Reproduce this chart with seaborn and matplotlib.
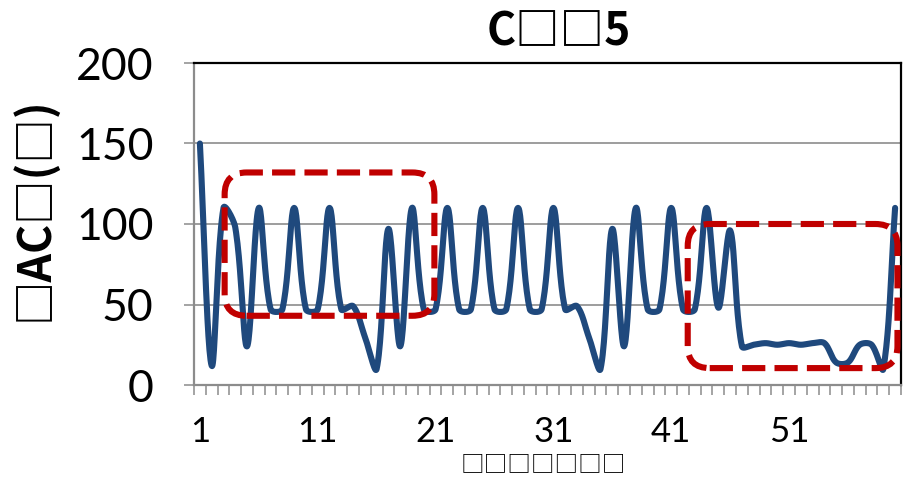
import numpy as np
import matplotlib
matplotlib.use("Agg")
import matplotlib.pyplot as plt
import seaborn as sns
from matplotlib.patches import FancyBboxPatch

# ---- data -------------------------------------------------------------
sample_index = list(range(1, 61))
counts = [150, 12, 110, 98, 24, 110, 47, 47, 110, 47,
          47, 110, 47, 49, 30, 10, 97, 24, 110, 47,
          47, 110, 47, 47, 110, 47, 47, 110, 47, 47,
          110, 47, 49, 30, 10, 97, 24, 110, 47, 47,
          110, 47, 47, 110, 48, 96, 24, 25, 26, 25,
          26, 25, 26, 26, 14, 14, 25, 25, 10, 110]
x_tick_values = [1, 11, 21, 31, 41, 51]
x_tick_labels = ["1", "11", "21", "31", "41", "51"]
y_ticks = [0, 50, 100, 150, 200]
title_text = "C□□5"
y_label_text = "□AC□(□)"
x_label_text = "□□□□□□□"
# highlighted stretches: (first sample, last sample, low value, high value)
highlight_regions = [(3.1, 20.9, 43, 132), (42.4, 60.2, 10.5, 100)]

LINE_BLUE = "#1F497D"
DASH_RED = "#C00000"
AXIS_GRAY = "#8C8C8C"

W, H = 904, 483
ax_left, ax_right, ax_top, ax_bottom = 194, 901, 63, 385
px_per_x = (ax_right - ax_left) / 60.0
px_per_y = (ax_bottom - ax_top) / 200.0


def smoothed(x, y, steps=24):
    """Bezier smooth line through every point; tangents are weighted by the
    on-screen segment lengths so short hops next to tall spikes stay tight."""
    x = np.asarray(x, float) * px_per_x
    y = np.asarray(y, float) * px_per_y
    pts = np.column_stack([x, y])
    ext = np.vstack([pts[0], pts, pts[-1]])
    t = np.linspace(0, 1, steps, endpoint=False)[:, None]
    out = []
    for i in range(1, len(ext) - 2):
        p0, p1, p2, p3 = ext[i - 1], ext[i], ext[i + 1], ext[i + 2]
        d01 = np.linalg.norm(p1 - p0)
        d12 = np.linalg.norm(p2 - p1)
        d23 = np.linalg.norm(p3 - p2)
        k1 = d12 / (d01 + d12) if d01 + d12 > 0 else 0.0
        k2 = d12 / (d12 + d23) if d12 + d23 > 0 else 0.0
        c1 = p1 + (p2 - p0) * k1 / 3.0
        c2 = p2 - (p3 - p1) * k2 / 3.0
        b = (1 - t) ** 3 * p1 + 3 * (1 - t) ** 2 * t * c1 \
            + 3 * (1 - t) * t ** 2 * c2 + t ** 3 * p2
        out.append(b)
    out.append(pts[-1:])
    out = np.vstack(out)
    return out[:, 0] / px_per_x, out[:, 1] / px_per_y


sns.set_style("white")
plt.rcParams["font.family"] = ["Lato", "Noto Sans CJK SC", "DejaVu Sans"]
plt.rcParams["text.color"] = "black"
plt.rcParams["xtick.labelcolor"] = "black"
plt.rcParams["ytick.labelcolor"] = "black"
box_fonts = ["Noto Sans CJK SC", "DejaVu Sans"]

fig = plt.figure(figsize=(W / 100, H / 100), dpi=100)
ax = fig.add_axes([ax_left / W, 1 - ax_bottom / H,
                   (ax_right - ax_left) / W, (ax_bottom - ax_top) / H])

sx, sy = smoothed(sample_index, counts)
sns.lineplot(x=sx, y=sy, sort=False, estimator=None, color=LINE_BLUE,
             linewidth=4.4, ax=ax, zorder=3)
for ln in ax.lines:
    ln.set_solid_capstyle("round")
    ln.set_solid_joinstyle("round")

ax.set_xlim(0.5, 60.5)
ax.set_ylim(0, 200)

# horizontal gridlines
ax.set_yticks(y_ticks)
ax.yaxis.grid(True, color=AXIS_GRAY, linewidth=1.2)
ax.xaxis.grid(False)
ax.set_axisbelow(True)

ax.set_xticks(x_tick_values)
ax.set_xticklabels(x_tick_labels)
ax.set_xticks(np.arange(0.5, 61, 1.0), minor=True)
ax.tick_params(axis="x", which="major", length=0, pad=22, labelsize=25,
               labelcolor="black")
ax.tick_params(axis="x", which="minor", length=7, width=1.1, color=AXIS_GRAY,
               direction="out", bottom=True)
ax.tick_params(axis="y", which="major", length=7, width=1.1, color=AXIS_GRAY,
               direction="out", left=True, pad=22, labelsize=32,
               labelcolor="black")

for side in ("left", "bottom"):
    ax.spines[side].set_color(AXIS_GRAY)
    ax.spines[side].set_linewidth(1.6)
for side in ("top", "right"):
    ax.spines[side].set_color("black")
    ax.spines[side].set_linewidth(1.6)

# dashed rounded frames around the highlighted stretches
aspect = px_per_x / px_per_y
radius_x = 22.0 / px_per_x
for x0, x1, y0, y1 in highlight_regions:
    frame = FancyBboxPatch((x0, y0), x1 - x0, y1 - y0,
                           boxstyle=f"round,pad=0,rounding_size={radius_x}",
                           mutation_aspect=aspect, transform=ax.transData,
                           fill=False, edgecolor=DASH_RED, linewidth=4.4,
                           linestyle=(0, (3.8, 1.5)), clip_on=False, zorder=4)
    ax.add_patch(frame)

fig.text(559 / W, 1 - 45 / H, title_text, ha="center", va="baseline",
         fontsize=32, fontweight="bold", family=box_fonts, color="black")
fig.text(34 / W, 1 - 209 / H, y_label_text, ha="center", va="center",
         rotation=90, fontsize=32, fontweight="bold", family=box_fonts,
         color="black")
fig.text(543 / W, 1 - 465 / H, x_label_text, ha="center", va="center",
         fontsize=17, family=box_fonts, color="black")

fig.savefig("out.png", dpi=100)
